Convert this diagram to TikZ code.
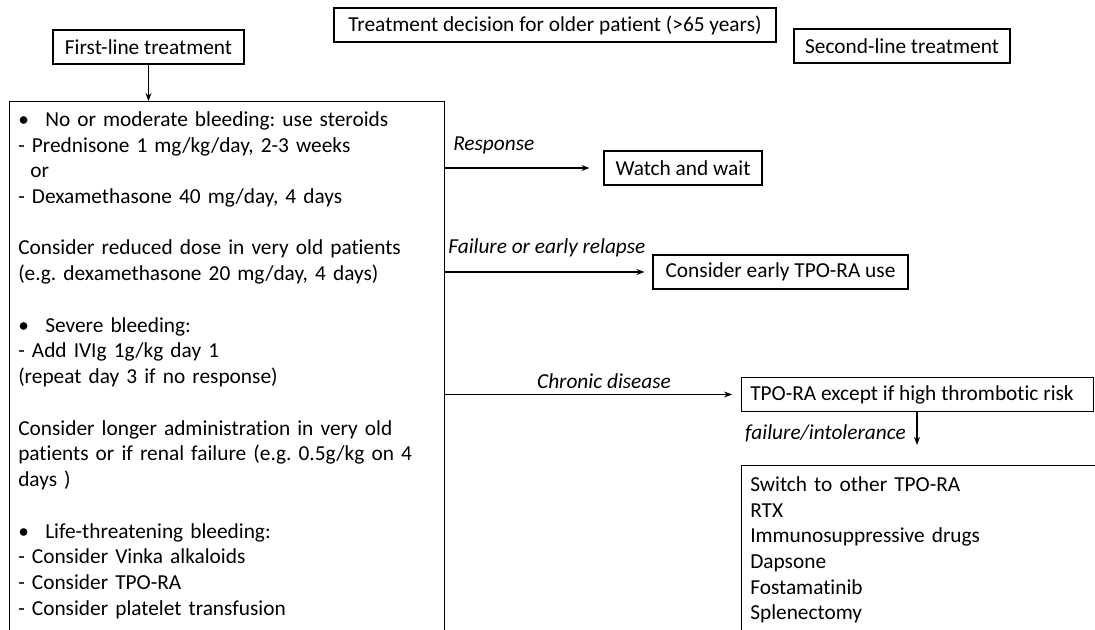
\documentclass[tikz,border=0pt]{standalone}
\usepackage{fontspec}
\setmainfont{Carlito}[RawFeature={-liga;-clig;-calt;-dlig}]
\usetikzlibrary{arrows.meta}
\frenchspacing
\begin{document}
\begin{tikzpicture}[x=0.75pt,y=-0.75pt,
  every node/.style={font=\fontsize{16pt}{19.3pt}\selectfont},
  box/.style={draw, line width=0.8pt, inner sep=0pt},
  txt/.style={inner sep=0pt, anchor=north west, align=left},
  lbl/.style={inner sep=0pt, font=\fontsize{16pt}{19.3pt}\selectfont\itshape},
  arr/.style={-{Stealth[length=6pt,width=4.5pt]}, line width=0.8pt}]
\useasboundingbox (0,0) rectangle (1095,630);
\clip (0,0) rectangle (1095,630);
% header boxes
\node[box, minimum width=331.5pt, minimum height=25.5pt] (title) at (555,25) {Treatment decision for older patient (>65 years)};
\node[box, minimum width=143.25pt, minimum height=25.5pt] (first) at (148.5,47) {First-line treatment};
\node[box, minimum width=162pt, minimum height=25.5pt] (second) at (902,46) {Second-line treatment};
% big left box
\node[box, anchor=north west, minimum width=326.25pt, minimum height=450pt] (lbox) at (9,101) {};
\node[txt, text width=320pt] (ltext) at (18,108) {%
\strut\makebox[20.25pt][l]{•}No or moderate bleeding: use steroids\\
- Prednisone 1 mg/kg/day, 2-3 weeks\\
\hspace*{9pt}or\\
- Dexamethasone 40 mg/day, 4 days\\
\strut\\
Consider reduced dose in very old patients\\
(e.g. dexamethasone 20 mg/day, 4 days)\\
\strut\\
\makebox[20.25pt][l]{•}Severe bleeding:\\
- Add IVIg 1g/kg day 1\\
(repeat day 3 if no response)\\
\strut\\
Consider longer administration in very old\\
patients or if renal failure (e.g. 0.5g/kg on 4\\
days )\\
\strut\\
\makebox[20.25pt][l]{•}Life-threatening bleeding:\\
- Consider Vinka alkaloids\\
- Consider TPO-RA\\
- Consider platelet transfusion};
% right boxes
\node[box, minimum width=118.5pt, minimum height=25.5pt] (watch) at (683,168) {Watch and wait};
\node[box, minimum width=191.25pt, minimum height=25.5pt] (early) at (780.5,272) {Consider early TPO-RA use};
\node[box, anchor=west, minimum width=264pt, minimum height=25pt] (tpo) at (741,394.5) {};
\node[inner sep=0pt, anchor=west] (tpotext) at (750,394.5) {TPO-RA except if high thrombotic risk};
\node[box, anchor=north west, minimum width=300pt, minimum height=150pt] (bbox) at (741,465) {};
\node[txt, text width=250pt] (btext) at (750,473) {%
\strut Switch to other TPO-RA\\
RTX\\
Immunosuppressive drugs\\
Dapsone\\
Fostamatinib\\
Splenectomy};
% connectors
\draw[arr] (first.south) -- (first.south |- lbox.north);
\coordinate (r1) at (lbox.east |- watch.west);
\coordinate (r2) at (lbox.east |- early.west);
\coordinate (r3) at (lbox.east |- tpo.west);
\draw[arr, shorten >=10.5pt] (r1) -- (watch.west);
\draw[arr, shorten >=6pt] (r2) -- (early.west);
\draw[arr, shorten >=6.75pt] (r3) -- (tpo.west);
\coordinate (d1) at (917,0 |- tpo.south);
\draw[arr, shorten >=15pt] (d1) -- (d1 |- bbox.north);
% labels
\node[lbl, anchor=west] (lresp) at (453,145) {Response};
\node[lbl, anchor=west] (lfail) at (448,248) {Failure or early relapse};
\node[lbl] (lchron) at (604,381) {Chronic disease};
\node[lbl, anchor=east] (lint) at (906,433) {failure/intolerance};
\end{tikzpicture}
\end{document}
